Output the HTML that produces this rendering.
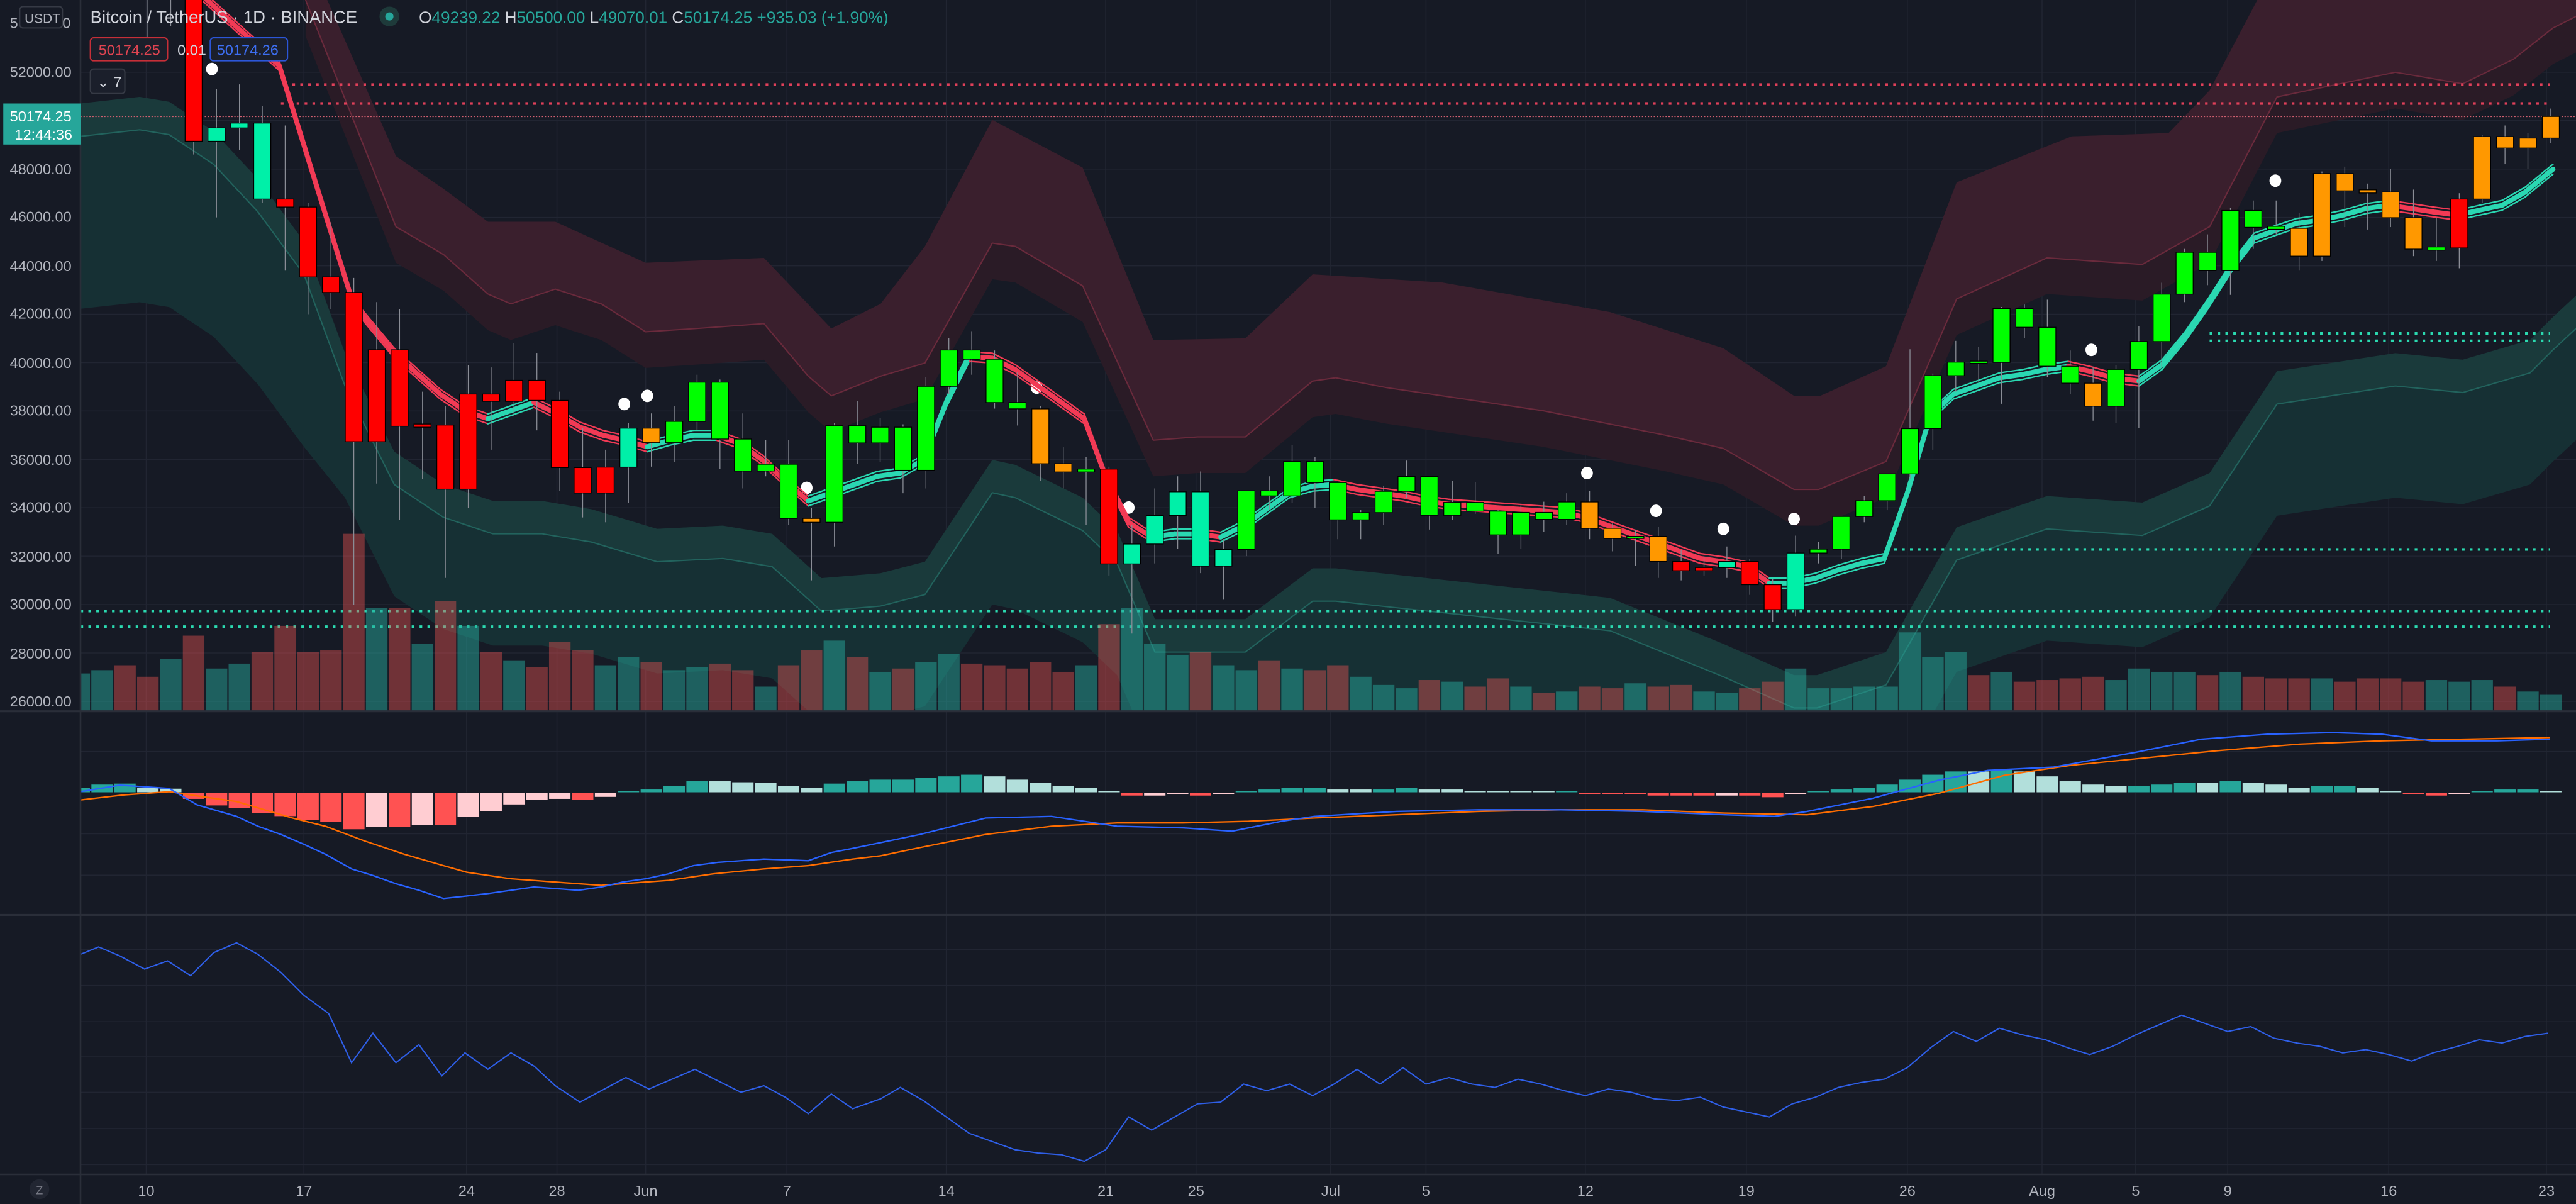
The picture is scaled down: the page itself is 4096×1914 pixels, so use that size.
<!DOCTYPE html>
<html><head><meta charset="utf-8">
<style>
html,body{margin:0;padding:0;background:#161a25;overflow:hidden}
svg{display:block}
text{font-family:"Liberation Sans",sans-serif}
</style></head>
<body>
<svg id="s" width="4096" height="1914" viewBox="0 0 1568 733" preserveAspectRatio="none" xmlns="http://www.w3.org/2000/svg">
<rect x="0" y="0" width="1568" height="733" fill="#161a25"/>
<defs><clipPath id="cm"><rect x="49" y="0" width="1519" height="433"/></clipPath>
<clipPath id="cp"><rect x="49" y="433" width="1519" height="282"/></clipPath></defs>
<g id="grid"></g>
<g id="bands" clip-path="url(#cm)"></g>
<g id="vol" clip-path="url(#cm)"></g>
<g id="dots" clip-path="url(#cm)"></g>
<g id="rib" clip-path="url(#cm)"></g>
<g id="cand" clip-path="url(#cm)"></g>
<g id="low" clip-path="url(#cp)"></g>
<line x1="0" y1="433" x2="1568" y2="433" stroke="#2a2e39" stroke-width="1.2"/>
<line x1="0" y1="557" x2="1568" y2="557" stroke="#2a2e39" stroke-width="1.2"/>
<line x1="0" y1="715" x2="1568" y2="715" stroke="#2a2e39" stroke-width="1"/>
<line x1="49" y1="0" x2="49" y2="733" stroke="#2a2e39" stroke-width="1"/>
<g font-size="9" fill="#b2b5be">
<text x="6" y="47">52000.00</text>
<text x="6" y="106">48000.00</text>
<text x="6" y="135">46000.00</text>
<text x="6" y="165">44000.00</text>
<text x="6" y="194">42000.00</text>
<text x="6" y="224">40000.00</text>
<text x="6" y="253">38000.00</text>
<text x="6" y="283">36000.00</text>
<text x="6" y="312">34000.00</text>
<text x="6" y="342">32000.00</text>
<text x="6" y="371">30000.00</text>
<text x="6" y="401">28000.00</text>
<text x="6" y="430">26000.00</text>
<text x="6" y="17">5</text><text x="38" y="17">0</text>
</g>
<rect x="12" y="4" width="26" height="13" rx="2" fill="#161a25" stroke="#363a45" stroke-width="0.8"/>
<text x="15" y="14" font-size="8" fill="#b2b5be">USDT</text>
<rect x="2" y="63" width="47" height="25" fill="#26a69a"/>
<text x="6" y="74" font-size="9" fill="#fff">50174.25</text>
<text x="9" y="85" font-size="9" fill="#fff">12:44:36</text>
<text x="55" y="14" font-size="10.5" fill="#d1d4dc">Bitcoin / TetherUS · 1D · BINANCE</text>
<circle cx="237" cy="10" r="6" fill="#1e3a3a"/><circle cx="237" cy="10" r="2.5" fill="#26a69a"/>
<text x="255" y="14" font-size="10" fill="#d1d4dc">O<tspan fill="#26a69a">49239.22</tspan> H<tspan fill="#26a69a">50500.00</tspan> L<tspan fill="#26a69a">49070.01</tspan> C<tspan fill="#26a69a">50174.25 +935.03 (+1.90%)</tspan></text>
<rect x="55" y="23" width="47" height="14" rx="2" fill="#1b1f2b" stroke="#c62f38" stroke-width="0.8"/>
<text x="60" y="33.5" font-size="9" fill="#e04451">50174.25</text>
<text x="108" y="33.5" font-size="9" fill="#d1d4dc">0.01</text>
<rect x="128" y="23" width="47" height="14" rx="2" fill="#1b1f2b" stroke="#2c56d8" stroke-width="0.8"/>
<text x="132" y="33.5" font-size="9" fill="#3d6ef0">50174.26</text>
<rect x="55" y="42" width="21" height="15" rx="2" fill="#1b1f2b" stroke="#363a45" stroke-width="0.8"/>
<text x="59" y="53" font-size="9" fill="#d1d4dc">⌄ 7</text>
<g font-size="9" fill="#b2b5be" text-anchor="middle">
<text x="89" y="728">10</text><text x="185" y="728">17</text><text x="284" y="728">24</text><text x="339" y="728">28</text>
<text x="393" y="728">Jun</text><text x="479" y="728">7</text><text x="576" y="728">14</text><text x="673" y="728">21</text>
<text x="728" y="728">25</text><text x="810" y="728">Jul</text><text x="868" y="728">5</text><text x="965" y="728">12</text>
<text x="1063" y="728">19</text><text x="1161" y="728">26</text><text x="1243" y="728">Aug</text><text x="1300" y="728">5</text>
<text x="1356" y="728">9</text><text x="1454" y="728">16</text><text x="1550" y="728">23</text>
</g>
<circle cx="24" cy="724" r="6" fill="#222632"/><text x="24" y="727" font-size="7" fill="#787b86" text-anchor="middle">Z</text>
</svg>
<script>
(function(){
var NS="http://www.w3.org/2000/svg";
function el(g,t,a){var e=document.createElementNS(NS,t);for(var k in a)e.setAttribute(k,a[k]);document.getElementById(g).appendChild(e);return e;}
function Y(p){return 44+(52000-p)*0.01473;}
function X(i){return 90+(i-3)*13.93;}
function pts(a){return a.map(function(p){return p[0]+","+p[1];}).join(" ");}
var vx=[89,185,284,339,393,479,576,673,728,810,868,965,1063,1161,1243,1300,1356,1454,1550];
vx.forEach(function(x){el("grid","line",{x1:x,y1:0,x2:x,y2:715,stroke:"#212532","stroke-width":0.6});});
for(var p=26000;p<=52000;p+=2000){var y=Y(p);el("grid","line",{x1:49,y1:y,x2:1568,y2:y,stroke:"#212532","stroke-width":0.6});}
[457.5,507.6,532.8].forEach(function(y){el("grid","line",{x1:49,y1:y,x2:1568,y2:y,stroke:"#212532","stroke-width":0.6});});
[578,600,622,643,665,687,709].forEach(function(y){el("grid","line",{x1:49,y1:y,x2:1568,y2:y,stroke:"#212532","stroke-width":0.6});});
var rTop=[[186,-30],[241,95],[270,115],[297,135],[338,135],[393,160],[465,157],[506,200],[536,185],[563,150],[604,73],[659,102],[702,207],[758,206],[799,167],[878,172],[980,190],[1049,212],[1092,241],[1108,241],[1148,223],[1191,111],[1261,83],[1320,81],[1345,55],[1374,0],[1568,-80]];
var rMid=[[186,0],[241,138],[270,155],[297,179],[311,185],[338,176],[366,185],[393,202],[424,200],[465,197],[492,229],[506,241],[536,229],[563,221],[604,148],[618,150],[659,174],[702,268],[729,266],[758,266],[799,232],[813,230],[844,236],[939,250],[1014,265],[1049,273],[1092,298],[1107,298],[1148,281],[1191,182],[1246,157],[1304,161],[1345,138],[1386,59],[1458,44],[1499,51],[1530,36],[1554,17],[1568,10]];
var rBot=rMid.map(function(p){return [p[0],p[1]+22];});
el("bands","polygon",{points:pts(rTop.concat(rBot.slice().reverse())),fill:"#2a1b26"});
el("bands","polygon",{points:pts(rTop.concat(rMid.slice().reverse())),fill:"#3a1f2d"});
el("bands","polyline",{points:pts(rMid),fill:"none",stroke:"#6a2a3c","stroke-width":0.8});
var tTop=[[49,63],[85,59],[103,62],[130,80],[157,109],[185,147],[210,215],[240,275],[270,295],[300,305],[330,305],[360,310],[400,322],[440,320],[470,325],[500,352],[536,349],[563,342],[604,280],[618,283],[659,303],[680,323],[703,377],[758,377],[799,346],[813,346],[878,353],[980,364],[1049,392],[1092,411],[1106,411],[1148,397],[1191,321],[1246,302],[1304,306],[1345,288],[1386,226],[1458,215],[1499,219],[1540,207],[1554,193],[1568,180]];
var tMid=tTop.map(function(p){return [p[0],p[1]+20];});
var tBot=tTop.map(function(p){return [p[0],p[1]+(p[0]<200?125:88)];});
el("bands","polygon",{points:pts(tTop.concat(tBot.slice().reverse())),fill:"#163034"});
el("bands","polygon",{points:pts(tTop.concat(tMid.slice().reverse())),fill:"#1a3a3b"});
el("bands","polyline",{points:pts(tMid),fill:"none",stroke:"#22635d","stroke-width":0.8});
function dl(x1,x2,y,c,w,da){el("bands","line",{x1:x1,y1:y,x2:x2,y2:y,stroke:c,"stroke-width":w,"stroke-dasharray":da});}
dl(178,1552,51.5,"#e0405a",1.6,"1.6 3.2");
dl(171,1552,63,"#e0405a",1.6,"1.6 3.2");
dl(49,1568,71,"#d06070",0.6,"0.8 1");
dl(49,1552,372,"#2bd9b0",1.6,"1.6 3.2");
dl(49,1552,381.5,"#2bd9b0",1.6,"1.6 3.2");
dl(1153,1552,334.5,"#2bd9b0",1.6,"1.6 3.2");
dl(1345,1552,203,"#2bd9b0",1.6,"1.6 3.2");
dl(1345,1552,207.5,"#2bd9b0",1.6,"1.6 3.2");
var D=[[56400,58600,55300,57300],[57300,59500,56900,58800],[58800,59300,56200,58200],[58200,59600,53400,55800],[55800,57000,53900,56700],[56700,58000,48600,49150],[49150,51300,46000,49700],[49700,51500,48800,49900],[49900,50600,46600,46760],[46760,49800,43800,46430],[46430,46600,42000,43540],[43540,45800,42200,42900],[42900,43500,30000,36730],[36730,42500,35000,40530],[40530,42200,33500,37370],[37370,38800,35200,37420],[37420,38200,31100,34770],[34770,39900,34000,38700],[38700,39800,36400,38400],[38400,40800,37800,39270],[39270,40400,37200,38440],[38440,38800,34700,35660],[35660,37300,33600,34610],[34610,36400,33400,35680],[35680,37500,34200,37290],
[37290,37900,35700,36690],[36690,38200,35900,37570],[37570,39500,37200,39190],[39190,39300,35600,36840],[36840,37900,34800,35520],[35520,36800,35300,35800],[35800,36800,33300,33560],[33560,34000,31000,33400],[33400,37500,32400,37390],[37390,38400,35800,36680],[36680,37700,35900,37330],[37330,37450,34600,35550],[35550,39400,34800,39020],[39020,41000,38700,40520],[40520,41300,39500,40140],[40140,40500,38100,38350],[38350,39600,37400,38090],[38090,38200,35100,35820],[35820,36500,34800,35480],[35480,36100,33300,35600],[35600,35700,31200,31680],[31680,33300,28800,32500],[32500,34800,31700,33680],[33680,35300,32300,34660],[34660,35500,31300,31590],[31590,32700,30200,32280],[32280,34700,32000,34700],[34700,35300,33900,34490],[34490,36600,34200,35910],[35910,36100,34000,35040],
[35040,35050,32700,33500],[33500,33900,32700,33800],[33800,34900,33300,34680],[34680,35950,34400,35290],[35290,35300,33100,33690],[33690,35100,33500,34220],[34220,35050,33750,33860],[33860,33900,32100,32880],[32880,34100,32300,33810],[33810,34250,33000,33520],[33520,34600,33300,34240],[34240,34700,32700,33150],[33150,33350,32200,32730],[32730,33100,31600,32820],[32820,33200,31100,31780],[31780,32250,31000,31400],[31400,31950,31200,31530],[31530,32400,31100,31780],[31780,31900,30400,30820],[30820,31050,29300,29790],[29790,32850,29500,32130],[32130,32600,31700,32290],[32290,33650,31900,33640],[33640,34500,33400,34290],[34290,35400,33900,35400],[35400,40550,35200,37270],[37270,39550,36400,39460],[39460,40900,38800,40020],[40020,40650,39200,40010],[40010,42300,38300,42230],[42230,42400,41000,41460],
[41460,42600,39400,39850],[39850,40500,38700,39150],[39150,39800,37600,38200],[38200,39900,37500,39720],[39720,41500,37300,40870],[40870,43300,39800,42830],[42830,44700,42500,44560],[44560,45300,43200,43800],[43800,46400,42800,46290],[46290,46700,44700,45590],[45590,46700,45300,45550],[45550,46200,43800,44400],[44400,47900,44200,47810],[47810,48100,45600,47100],[47100,47400,45500,47050],[47050,48000,45600,45990],[45990,47150,44400,44690],[44690,46000,44200,44740],[44740,47000,43900,46760],[46760,49400,46600,49340],[49340,49800,48200,48870],[48870,49500,48000,49280],[49280,50500,49070,50174]];
var C="RRRRR"+"RMMMRRRRRRRRRRRRRRRM"+"OGGGGGGOGGGGGGGGGOOGRMMMMMGGGG"+"GGGGGGGGGGGOOGORRMRRMGGGGGGGGGG"+"GGOGGGGGGGGOOOOOOGROOOO";
var CM={R:"#ff0000",G:"#00ff00",M:"#00f0a8",O:"#ff9800"};
var V=[410,408,405,412,401,387,407,404,397,381,397,396,325,370,370,392,366,381,397,402,406,391,396,405,400,
403,408,406,404,408,418,405,396,390,400,409,407,403,398,404,405,407,403,409,405,380,370,392,399,397,405,408,402,407,408,
405,412,417,419,414,415,418,413,418,422,421,418,419,416,418,417,421,422,419,415,407,419,419,418,418,385,400,397,411,409,415,
414,413,412,414,407,409,409,411,409,412,413,413,413,415,413,413,415,414,415,414,418,421,423];
var bw=13.93;
for(var i=0;i<D.length;i++){
 var d=D[i],x=X(i),up=d[3]>=d[0];
 el("vol","rect",{x:x-bw/2+0.4,y:V[i],width:bw-0.8,height:433-V[i],fill:up?"rgba(38,166,154,0.5)":"rgba(239,83,80,0.42)"});
}
var R=[[115,-10],[170,40],[215,185],[240,215],[268,240],[283,250],[297,255],[311,250],[325,245],[339,252],[353,260],[367,265],[380,268],[394,272],[408,268],[422,265],[436,265],[450,270],[464,280],[478,293],[492,305],[506,300],[520,295],[534,290],[548,288],[562,280],[576,245],[590,217],[604,218],[618,225],[632,235],[646,245],[660,255],[673,290],[687,318],[701,327],[715,325],[729,325],[743,327],[757,320],[771,310],[785,300],[799,296],[812,295],[826,298],[840,300],[854,302],[868,305],[882,307],[896,308],[910,309],[924,310],[938,311],[952,312],[965,315],[979,320],[993,325],[1007,330],[1021,335],[1035,340],[1049,342],[1063,345],[1077,355],[1091,355],[1105,352],[1119,347],[1133,343],[1147,340],[1161,300],[1175,253],[1189,240],[1203,235],[1217,230],[1231,228],[1245,225],[1259,223],[1272,226],[1286,230],[1302,232],[1316,222],[1330,205],[1344,185],[1358,163],[1372,145],[1386,140],[1398,136],[1412,134],[1426,131],[1440,127],[1454,125],[1468,127],[1481,129],[1496,131],[1509,128],[1523,125],[1537,117],[1554,103]];
for(var j=0;j<R.length-1;j++){
 var a=R[j],b=R[j+1],col=(b[1]>a[1]+0.3)?"#f23a55":"#2ad8b2";
 el("rib","line",{x1:a[0],y1:a[1]-3,x2:b[0],y2:b[1]-3,stroke:col,"stroke-width":0.9,"stroke-linecap":"round"});
 el("rib","line",{x1:a[0],y1:a[1]+3,x2:b[0],y2:b[1]+3,stroke:col,"stroke-width":0.9,"stroke-linecap":"round"});
 el("rib","line",{x1:a[0],y1:a[1],x2:b[0],y2:b[1],stroke:col,"stroke-width":3,"stroke-linecap":"round"});
}
for(var i=0;i<D.length;i++){
 var d=D[i],x=X(i);
 el("cand","line",{x1:x,y1:Y(d[1]),x2:x,y2:Y(d[2]),stroke:"#8a8d96","stroke-width":0.5});
 var t=Y(Math.max(d[0],d[3])),bb=Y(Math.min(d[0],d[3]));
 if(bb-t<1.2){t-=0.6;bb+=0.6;}
 el("cand","rect",{x:x-5.2,y:t,width:10.4,height:bb-t,fill:CM[C[i]],stroke:"#000","stroke-width":0.5});
}
[[129,42],[380,246],[394,241],[491,297],[631,236],[687,309],[966,288],[1008,311],[1049,322],[1092,316],[1273,213],[1385,110]].forEach(function(p){el("dots","ellipse",{cx:p[0],cy:p[1],rx:3.6,ry:3.8,fill:"#ffffff"});});
var H="3T 5T 5.6T 3L 2.5L -4R -8R -9.6R -12.8R -14.5R -17R -18R -22.5R -21P -21R -20P -20R -15P -11.5P -7.4P -4.4P -4P -4.4R -2.8P 1T 2T 4T 7T 7L 6.4L 6L 4L 2.8L 5.6T 7T 8T 8T 9T 10T 11T 10L 8L 6L 4L 3L 1L -2R -2P -1P -2R -1P 1T 2T 3T 3T 2L 2L 2T 3T 2L 2L 1L 1L 1L 1L 1T -1R -1R -1R -2R -2R -2R -2P -2R -3R -1P 1T 2T 3T 5T 8T 11T 13T 13L 14T 13L 10L 7L 5L 4L 4T 5T 6T 6L 7T 6L 5L 3L 4T 4T 3L 1L -1R -2R -1P 1T 2T 2T 1L".split(" ");
var HC={T:"#26a69a",L:"#b2dfdb",R:"#ff5252",P:"#ffcdd2"};
var base=482.5;
for(var i=0;i<H.length;i++){
 var v=parseFloat(H[i]),c=H[i].slice(-1),x=X(i);
 var y0=v>0?base-v:base,h=Math.abs(v);
 el("low","rect",{x:x-bw/2+0.3,y:y0,width:bw-0.6,height:Math.max(h,0.8),fill:HC[c],stroke:"#161a25","stroke-width":0.3});
}
var MB=[[49,482],[73,478],[103,480],[120,490],[144,497],[157,503],[171,508],[185,514],[198,520],[214,529],[227,533],[241,538],[255,542],[270,547],[284,545.5],[297,544],[325,540],[352,542],[366,540],[379,537],[393,535],[407,532],[422,527],[437,525],[451,524],[465,523],[492,524],[506,519],[519,516.5],[536,513],[560,508],[600,498],[640,497],[680,503],[720,504],[750,506],[780,500],[800,497],[850,494],[900,493],[950,493],[1000,494],[1050,496],[1080,497],[1100,494],[1140,486],[1180,475],[1210,469],[1250,467],[1300,458],[1340,450],[1380,447],[1420,446],[1450,447],[1480,451],[1520,451],[1552,450]];
var MO=[[49,487],[75,484],[103,482],[123,485],[144,488],[178,498],[198,503],[222,512],[246,520],[270,527],[284,531],[311,535],[338,537],[366,539],[379,538],[407,536],[434,532],[465,529],[492,527],[519,523],[536,521],[560,516],[600,508],[640,503],[680,501],[720,501],[760,500],[800,498],[850,496],[900,494],[950,493],[1000,493],[1050,495],[1100,496],[1140,491],[1180,483],[1220,472],[1260,466],[1300,462],[1350,457],[1400,453],[1450,451],[1500,450],[1552,449]];
el("low","polyline",{points:pts(MO),fill:"none",stroke:"#ff6d00","stroke-width":0.9});
el("low","polyline",{points:pts(MB),fill:"none",stroke:"#2962ff","stroke-width":0.9});
var RS=[[49,581],[60,576.5],[73,582],[88,590],[102,585],[116,594],[130,580],[144,574],[157,581],[171,592],[185,606],[200,617],[214,647],[227,629],[241,647],[255,636],[269,655],[283,641],[297,651],[311,641],[325,649],[338,661],[353,671],[366,664],[381,656],[395,663],[409,657],[423,651],[437,658],[451,665],[465,661],[478,668],[492,678],[506,666],[519,675],[536,669],[548,662],[562,670],[576,680],[590,690],[604,695],[618,700],[632,702],[646,703],[660,707],[673,700],[687,680],[701,688],[715,680],[729,672],[743,671],[757,660],[771,664],[785,660],[799,667],[812,660],[826,651],[840,660],[854,650],[868,660],[882,656],[896,660],[910,662],[924,657],[938,660],[952,664],[965,667],[979,663],[993,665],[1007,669],[1021,670],[1035,668],[1049,674],[1063,677],[1077,680],[1091,672],[1105,668],[1119,662],[1133,659],[1147,657],[1161,650],[1175,638],[1189,628],[1203,634],[1217,626],[1231,630],[1245,633],[1259,638],[1272,642],[1286,637],[1300,630],[1314,624],[1328,618],[1342,623],[1356,628],[1370,625],[1384,632],[1398,635],[1412,637],[1426,641],[1440,639],[1454,642],[1468,646],[1481,641],[1496,637],[1509,633],[1523,635],[1537,631],[1551,629]];
el("low","polyline",{points:pts(RS),fill:"none",stroke:"#2f5fe8","stroke-width":0.8});
})();
</script>
</body></html>
